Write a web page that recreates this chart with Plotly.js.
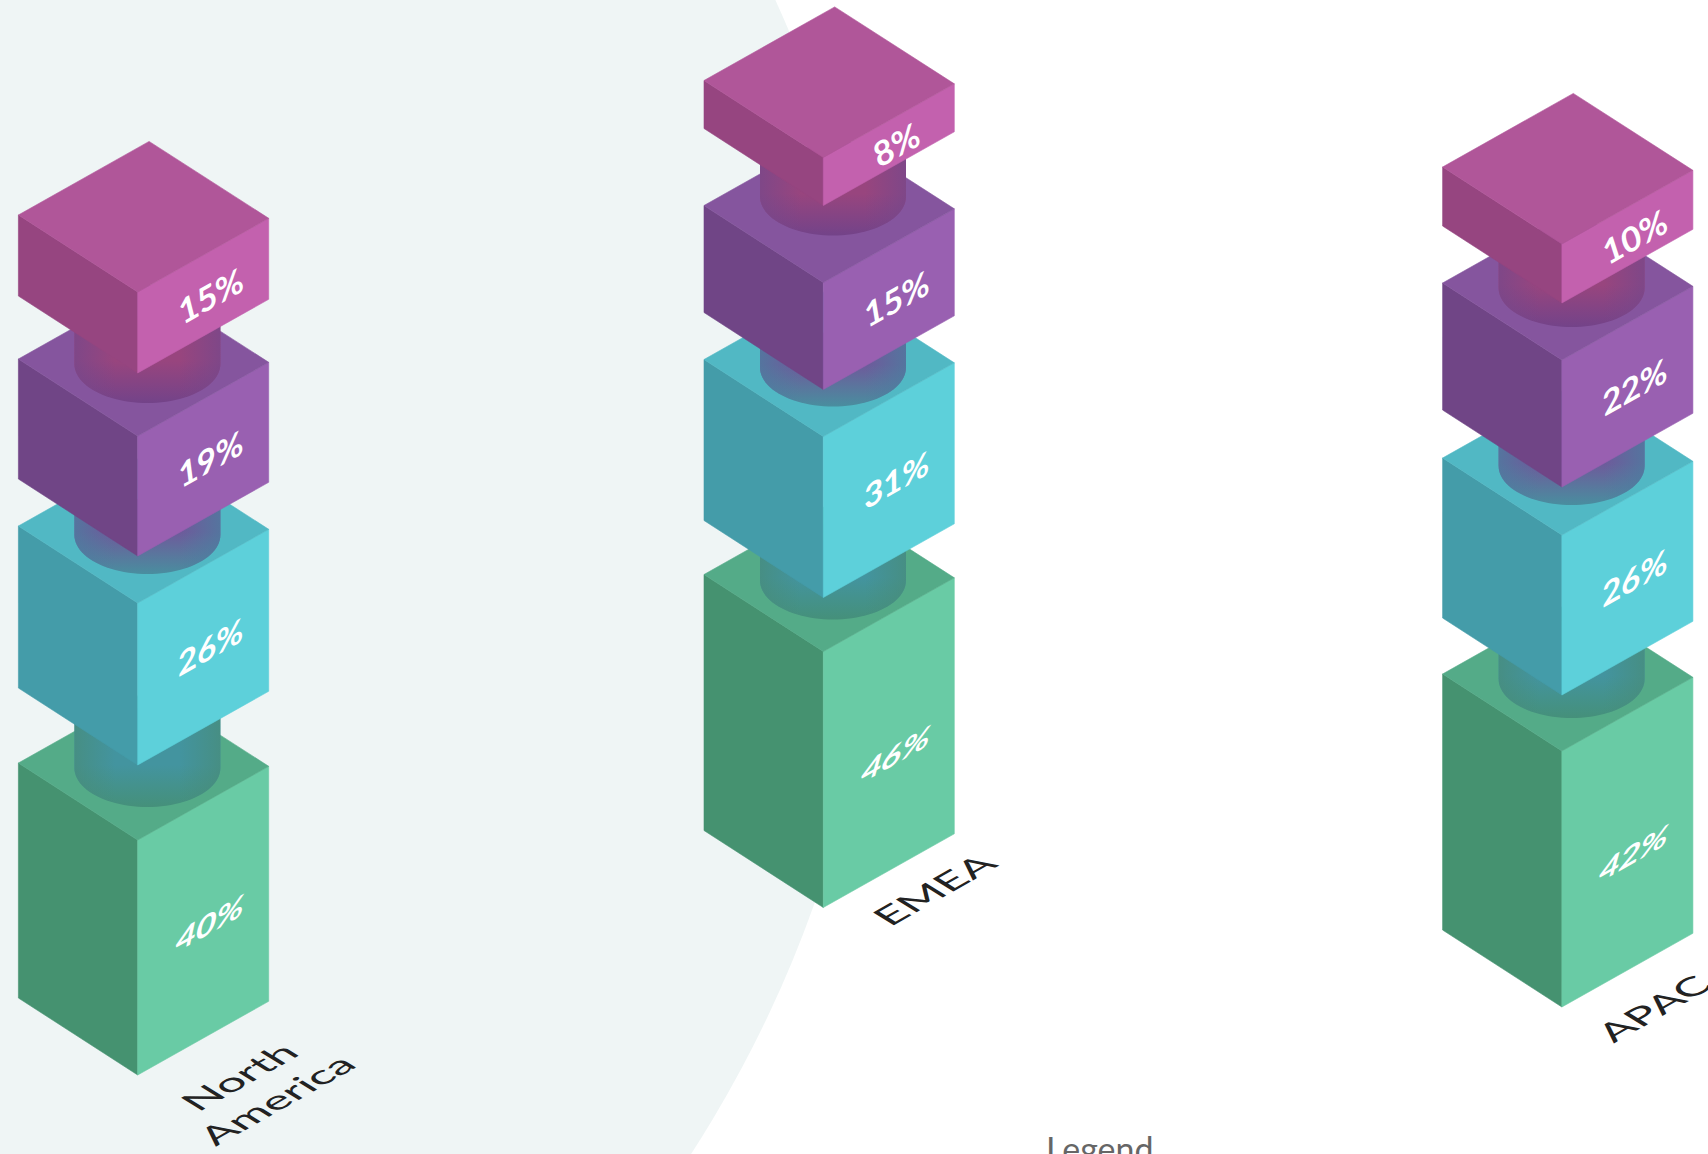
<!DOCTYPE html>
<html>
<head>
<meta charset="utf-8">
<script src="https://cdn.plot.ly/plotly-3.0.1.min.js"></script>
<style>html,body{margin:0;padding:0;background:#fff;overflow:hidden}#chart{width:1708px;height:1154px}</style>
</head>
<body>
<div id="chart"></div>
<script>
// ---------- data ----------
const regions = ['North<br>America', 'EMEA', 'APAC'];
const tiers = ['green', 'cyan', 'purple', 'magenta'];
// label values (percent)
const greenShare = [40, 46, 42];
const cyanShare = [26, 31, 26];
const purpleShare = [19, 15, 22];
const magentaShare = [15, 8, 10];
// drawn block heights, read in y-axis units
const greenHeight = [235, 256, 256];
const cyanHeight = [162, 161, 160];
const purpleHeight = [120, 107, 127];
const magentaHeight = [81, 48, 59];
// elevation of each bar's foot and clear gaps between blocks
const footLevel = [156, 323.5, 224];
const gapGreenCyan = [75, 54, 56];
const gapCyanPurple = [47, 47, 48];
const gapPurpleMagenta = [63, 77, 57];
// x of each bar's left corner
const barLeft = [18.4, 704, 1442.6];

// ---------- styling ----------
const palette = {
  green:   {top:'#54ab88', left:'#459270', right:'#69cba5', grad:['#43949f','#45907a']},
  cyan:    {top:'#51b8c4', left:'#449ca9', right:'#5dd0da', grad:['#6e5a9b','#498e9f']},
  purple:  {top:'#85559e', left:'#704586', right:'#9960b1', grad:['#98457e','#734389']},
  magenta: {top:'#b05699', left:'#964580', right:'#c361ae', grad:null}
};
const edgeTint = {green:'rgba(72,140,120,', cyan:'rgba(74,128,160,', purple:'rgba(116,72,140,'};
// footprint relative to left corner (x, elevation)
const FRONT = [119.3, -77], RIGHT = [250.3, -3.3], BACK = [130.7, 73.6];
const CYL = {cx:129, rx:73, ry:39, drop:4};
const connectorShift = {green:[1,2,1], cyan:[5,4,4], purple:[1,-13,1]};
const labelNudge = {green:[2,11,11], cyan:[0,0,0], purple:[0,0,0], magenta:[0,0,0]};
const catOffsetX = [119, 110, 91];
const catOffsetY = [13, -19, 1];
const BG = '#eff5f5';

const shares = {green:greenShare, cyan:cyanShare, purple:purpleShare, magenta:magentaShare};
const heights = {green:greenHeight, cyan:cyanHeight, purple:purpleHeight, magenta:magentaHeight};
const gapsAbove = {green:gapGreenCyan, cyan:gapCyanPurple, purple:gapPurpleMagenta};

const traces = [];
const annotations = [];
const skews = [];

function poly(xs, ys, color) {
  traces.push({type:'scatter', mode:'lines', x:xs, y:ys, fill:'toself', fillcolor:color,
    line:{color:color, width:0.6}, hoverinfo:'skip', showlegend:false});
}
function gradPoly(xs, ys, grad) {
  traces.push(Object.assign({type:'scatter', mode:'none', x:xs, y:ys, fill:'toself',
    hoverinfo:'skip', showlegend:false}, grad));
}

regions.forEach((region, r) => {
  const L = barLeft[r];
  let level = footLevel[r];
  tiers.forEach((tier, t) => {
    const c = palette[tier];
    const h = heights[tier][r];
    const bot = level, top = level + h;
    poly([L, L+FRONT[0], L+FRONT[0], L, L], [top, top+FRONT[1], bot+FRONT[1], bot, top], c.left);
    poly([L+FRONT[0], L+RIGHT[0], L+RIGHT[0], L+FRONT[0], L+FRONT[0]],
         [top+FRONT[1], top+RIGHT[1], bot+RIGHT[1], bot+FRONT[1], top+FRONT[1]], c.right);
    poly([L, L+BACK[0], L+RIGHT[0], L+FRONT[0], L], [top, top+BACK[1], top+RIGHT[1], top+FRONT[1], top], c.top);

    if (c.grad) {
      const gap = gapsAbove[tier][r];
      const yc = top - CYL.drop - connectorShift[tier][r];
      const yUp = top + gap - 20;
      const xs = [], ys = [];
      const n = 48;
      for (let i = 0; i <= n; i++) {
        const a = Math.PI * i / n;
        xs.push(L + CYL.cx - CYL.rx * Math.cos(a));
        ys.push(yc - CYL.ry * Math.sin(a));
      }
      xs.push(L + CYL.cx + CYL.rx, L + CYL.cx - CYL.rx, L + CYL.cx - CYL.rx);
      ys.push(yUp, yUp, yc);
      gradPoly(xs, ys, {fillgradient:{type:'vertical', start:yc - CYL.ry, stop:yc - CYL.ry + 42,
        colorscale:[[0, c.grad[1]], [1, c.grad[0]]]}});
      gradPoly(xs, ys, {fillgradient:{type:'horizontal', start:L + CYL.cx - CYL.rx, stop:L + CYL.cx + CYL.rx,
        colorscale:[[0, edgeTint[tier]+'0.7)'], [0.28, edgeTint[tier]+'0)'], [0.72, edgeTint[tier]+'0)'], [1, edgeTint[tier]+'0.7)']]}});
    }

    annotations.push({x:L+FRONT[0]+73, y:(top+bot)/2-39-labelNudge[tier][r], xref:'x', yref:'y', showarrow:false,
      text:shares[tier][r]+'%', textangle:0,
      font:{family:'Lato', size:33, color:'#ffffff', weight:700}});
    skews.push({kind:'value', h:h});
    level = top + (gapsAbove[tier] ? gapsAbove[tier][r] : 0);
  });
  annotations.push({x:L+FRONT[0]+catOffsetX[r], y:footLevel[r]-77-catOffsetY[r], xref:'x', yref:'y', showarrow:false,
    text:region, textangle:0, align:'center',
    font:{family:'Lato', size:35, color:'#222222'}});
  skews.push({kind:'cat'});
});

annotations.push({x:1100, y:28, xref:'x', yref:'y', yanchor:'top', showarrow:false,
  text:'Legend', font:{family:'Lato', size:34, color:'#666666'}});
skews.push(null);

const layout = {
  width:1708, height:1154, margin:{l:0,r:0,t:0,b:0},
  paper_bgcolor:'#ffffff', plot_bgcolor:'#ffffff', showlegend:false,
  xaxis:{range:[0,1708], visible:false, fixedrange:true},
  yaxis:{range:[0,1154], visible:false, fixedrange:true},
  shapes:[{type:'circle', layer:'below', xref:'x', yref:'y', x0:-321-1205, x1:-321+1205, y0:654-1205, y1:654+1205,
    fillcolor:BG, line:{width:0}}],
  annotations:annotations
};

function applySkew() {
  const groups = document.querySelectorAll('#chart .annotation');
  groups.forEach((g, i) => {
    const s = skews[i];
    if (!s) return;
    const tg = g.querySelector('.annotation-text-g');
    const b = tg.getBBox();
    const cx = b.x + b.width/2, cy = b.y + b.height/2;
    let a, bb, cc, d;
    if (s.kind === 'value') {
      const lean = (-14 + (s.h - 81) * 0.17) * Math.PI/180;
      const sx = 1.1 + (s.h - 81) * 0.0006;
      a = 0.87*sx; bb = -0.493*sx; cc = -Math.sin(lean); d = Math.cos(lean);
    } else {
      const sx = 1.3, sy = 0.95;
      a = 0.87*sx; bb = -0.493*sx; cc = 0.868*sy; d = 0.532*sy;
    }
    const e = cx - a*cx - cc*cy, f = cy - bb*cx - d*cy;
    tg.setAttribute('transform', `matrix(${a} ${bb} ${cc} ${d} ${e} ${f})`);
  });
}

Plotly.newPlot('chart', traces, layout, {displayModeBar:false, staticPlot:true}).then(applySkew);
</script>
</body>
</html>
